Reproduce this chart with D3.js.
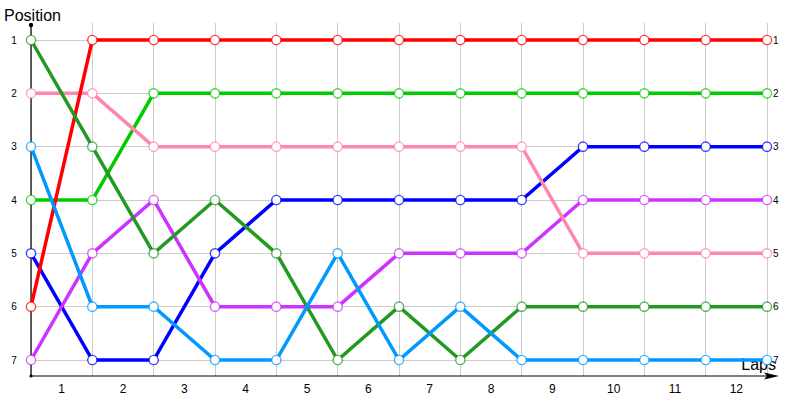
<!DOCTYPE html>
<html><head><meta charset="utf-8">
<script src="https://cdn.jsdelivr.net/npm/d3@7"></script>
<style>body{margin:0;background:#fff}svg{display:block}</style>
</head><body><svg id="c" width="800" height="400"></svg>
<script>
const positions = [1,2,3,4,5,6,7];
const lapLabels = ["1","2","3","4","5","6","7","8","9","10","11","12"];
const seriesNames = ["green","blue","purple","pink","red","darkgreen","lightblue"];
const seriesColors = ["#00cc00","#0000ff","#cc33ff","#ff88aa","#ff0000","#229922","#0099ff"];
const green     = [4,4,2,2,2,2,2,2,2,2,2,2,2];
const blue      = [5,7,7,5,4,4,4,4,4,3,3,3,3];
const purple    = [7,5,4,6,6,6,5,5,5,4,4,4,4];
const pink      = [2,2,3,3,3,3,3,3,3,5,5,5,5];
const red       = [6,1,1,1,1,1,1,1,1,1,1,1,1];
const darkgreen = [1,3,5,4,5,7,6,7,6,6,6,6,6];
const lightblue = [3,6,6,7,7,5,7,6,7,7,7,7,7];
const seriesValues = [green,blue,purple,pink,red,darkgreen,lightblue];

const svg = d3.select("#c");
const x = d3.scaleLinear().domain([0,12]).range([31,767]);
const y = d3.scaleLinear().domain([1,7]).range([40,360]);
const axisY = 376;

// grid
const g = svg.append("g");
g.selectAll("line.v").data(d3.range(0,13)).join("line")
  .attr("x1",d=>x(d)).attr("x2",d=>x(d)).attr("y1",23).attr("y2",axisY)
  .attr("stroke","#cccccc").attr("stroke-width",1).attr("shape-rendering","crispEdges");
g.selectAll("line.h").data(positions).join("line")
  .attr("x1",x(0)).attr("x2",x(12)).attr("y1",d=>y(d)).attr("y2",d=>y(d))
  .attr("stroke","#cccccc").attr("stroke-width",1).attr("shape-rendering","crispEdges");

// axes
svg.append("line").attr("x1",x(0)).attr("x2",x(0)).attr("y1",25).attr("y2",axisY)
  .attr("stroke","#000").attr("stroke-width",1.2);
svg.append("circle").attr("cx",x(0)).attr("cy",25).attr("r",2.2).attr("fill","#000");
svg.append("circle").attr("cx",x(0)).attr("cy",axisY).attr("r",1.6).attr("fill","#000");
svg.append("line").attr("x1",x(0)).attr("x2",775).attr("y1",axisY).attr("y2",axisY)
  .attr("stroke","#000").attr("stroke-width",1.2);
svg.append("path").attr("d",`M764,${axisY-3.5} L779,${axisY} L764,${axisY+3.5} L767,${axisY} Z`).attr("fill","#000");

// labels
const font = "'Liberation Sans', Arial, sans-serif";
svg.append("text").attr("x",4).attr("y",21).attr("font-family",font).attr("font-size",16).text("Position");
svg.append("text").attr("x",776).attr("y",370).attr("text-anchor","end").attr("font-family",font).attr("font-size",16).text("Laps");
svg.selectAll("text.yl").data(positions).join("text")
  .attr("x",14).attr("y",d=>y(d)).attr("dy","0.35em").attr("text-anchor","middle")
  .attr("font-family",font).attr("font-size",10).text(d=>d);
svg.selectAll("text.xl").data(lapLabels).join("text")
  .attr("x",(d,i)=>x(i+0.5)).attr("y",393).attr("text-anchor","middle")
  .attr("font-family",font).attr("font-size",12).text(d=>d);

// series
const line = d3.line().x((d,i)=>x(i)).y(d=>y(d));
seriesValues.forEach((vals,si)=>{
  const col = seriesColors[si];
  svg.append("path").datum(vals).attr("d",line).attr("fill","none")
    .attr("stroke",col).attr("stroke-width",3.5).attr("stroke-linejoin","miter");
});
seriesValues.forEach((vals,si)=>{
  const col = seriesColors[si];
  svg.append("g").selectAll("circle").data(vals).join("circle")
    .attr("cx",(d,i)=>x(i)).attr("cy",d=>y(d)).attr("r",4.6)
    .attr("fill","#fff").attr("stroke",col).attr("stroke-width",1.4).attr("stroke-opacity",0.75);
  const last = vals[vals.length-1];
  svg.append("text").attr("x",x(12)+6).attr("y",y(last)).attr("dy","0.35em")
    .attr("font-family",font).attr("font-size",10).text(last);
});
</script></body></html>
